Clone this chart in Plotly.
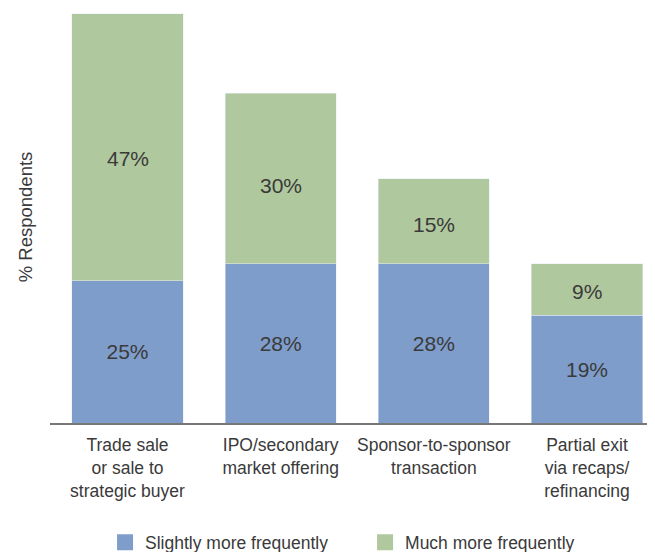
import plotly.graph_objects as go

categories = ['Trade sale<br>or sale to<br>strategic buyer', 'IPO/secondary<br>market offering',
              'Sponsor-to-sponsor<br>transaction', 'Partial exit<br>via recaps/<br>refinancing']
slightly = [25, 28, 28, 19]
much = [47, 30, 15, 9]

font_family = 'Liberation Sans, Arial, sans-serif'
text_color = '#3a3a3a'
blue = '#7f9dcb'
green = '#b0c89e'

fig = go.Figure()
fig.add_trace(go.Bar(x=categories, y=slightly, name='Slightly more frequently',
                     marker_color=blue, width=0.725, showlegend=False,
                     text=[f'{v}%' for v in slightly], textposition='inside',
                     insidetextanchor='middle', textfont=dict(size=21, color=text_color)))
fig.add_trace(go.Bar(x=categories, y=much, name='Much more frequently',
                     marker_color=green, width=0.725, showlegend=False))

# green labels sit a little below the middle of their segment
for cat, s, m in zip(categories, slightly, much):
    fig.add_annotation(x=cat, y=s + m * 0.46, text=f'{m}%', showarrow=False,
                       font=dict(size=21, color=text_color))

# legend entries with bigger square swatches
fig.add_trace(go.Scatter(x=[None], y=[None], mode='markers', name='Slightly more frequently',
                         marker=dict(symbol='square', size=17, color=blue)))
fig.add_trace(go.Scatter(x=[None], y=[None], mode='markers', name='Much more frequently',
                         marker=dict(symbol='square', size=17, color=green)))

fig.update_layout(
    barmode='stack',
    width=647, height=544,
    margin=dict(l=42, r=0, t=3, b=128.5, autoexpand=False),
    paper_bgcolor='white', plot_bgcolor='white',
    font=dict(family=font_family, size=17.5, color=text_color),
    uniformtext=dict(mode='show', minsize=21),
    showlegend=True,
    legend=dict(orientation='h', x=0.091, xanchor='left', y=-0.2895, yanchor='middle',
                font=dict(size=17.5, color=text_color), entrywidth=215,
                entrywidthmode='pixels', traceorder='normal'),
    xaxis=dict(range=[-0.506, 3.444], showline=True, linecolor='#777777', linewidth=2,
               ticks='outside', ticklen=5, tickcolor='rgba(0,0,0,0)', showgrid=False,
               tickfont=dict(size=17.5, color=text_color)),
    yaxis=dict(range=[0, 72.5], showticklabels=False, showgrid=False, zeroline=False,
               showline=False, ticks='',
               title=dict(text='% Respondents', font=dict(size=18.5, color=text_color), standoff=11)),
)

fig.write_html('out.html')
